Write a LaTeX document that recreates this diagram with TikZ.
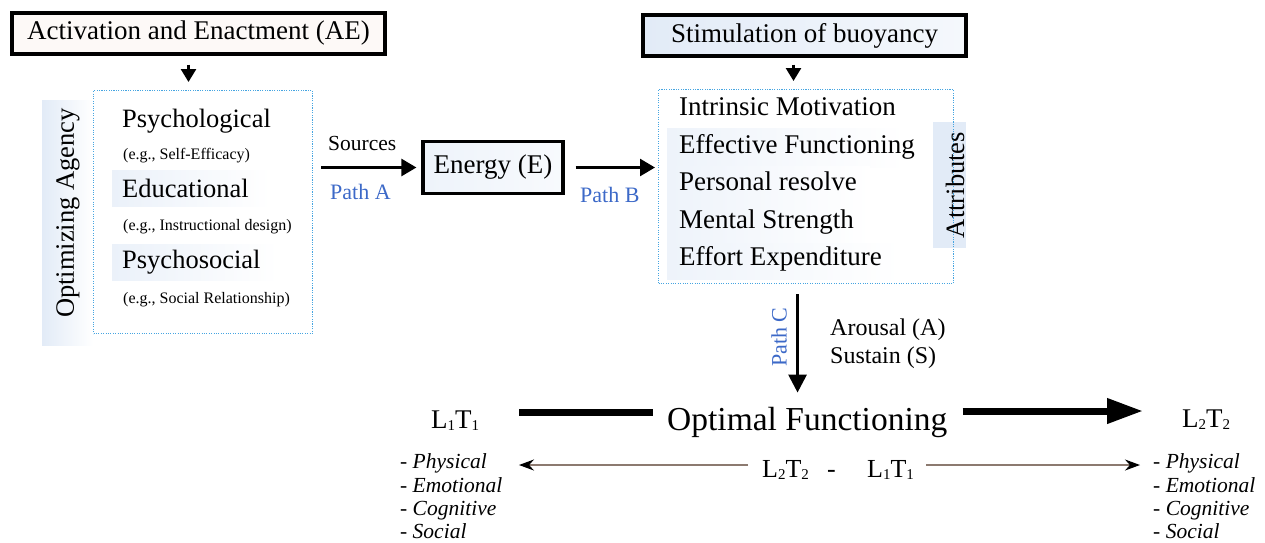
\documentclass[tikz,border=0pt]{standalone}
\usepackage{fontspec}
\setmainfont{Liberation Serif}
\usetikzlibrary{arrows.meta,calc}
\definecolor{pathblue}{RGB}{60,105,200}
\definecolor{dotblue}{RGB}{70,165,225}
\definecolor{stripblue}{RGB}{226,235,247}
\definecolor{aefill}{RGB}{253,249,247}
\definecolor{thinline}{RGB}{140,122,112}
\newcommand{\fs}[1]{\fontsize{#1}{#1}\selectfont}
\newcommand{\subdig}[1]{\raisebox{-0.08em}{\fontsize{15}{15}\selectfont #1}}
\newcommand{\LTsub}[2]{L\subdig{#1}T\subdig{#2}}
\begin{document}
\begin{tikzpicture}[x=1pt,y=-1pt,
  tbox/.style={draw=black, line width=3.2pt, inner sep=0pt},
  dotbox/.style={draw=dotblue, line width=1.1pt, dash pattern=on 1.1pt off 1.3pt, inner sep=0pt},
  txt/.style={inner sep=0pt, anchor=base west},
  bigf/.style={font=\fs{27}},
  mainf/.style={font=\fs{26.5}},
  smallf/.style={font=\fs{16}},
  labf/.style={font=\fs{21.5}},
  pathf/.style={font=\fs{22}, text=pathblue},
  itf/.style={font=\fs{21.5}\itshape},
  arrA/.style={line width=2.6pt, -{Triangle[length=15pt,width=17pt]}},
  arrD/.style={line width=2.6pt, -{Triangle[length=13pt,width=15pt]}},
  arrC/.style={line width=3pt, -{Triangle[length=18pt,width=18pt]}},
  fatline/.style={line width=7pt},
  fatarr/.style={line width=7pt, -{Triangle[length=36pt,width=24pt]}},
  thinarr/.style={draw=thinline, line width=1.5pt, -{Stealth[length=15pt,width=11pt,black]}}
]
\useasboundingbox (0,0) rectangle (1265,542);
\fill[white] (0,0) rectangle (1265,542);

% background strips
\shade[left color=stripblue, right color=white] (42,100) rectangle (93,345);
\shade[left color=stripblue!70, right color=white] (112,170) rectangle (270,206);
\shade[left color=stripblue!70, right color=white] (112,244) rectangle (278,280);
\shade[left color=stripblue!60, right color=white] (667,128) rectangle (905,167);
\shade[left color=stripblue!60, right color=white] (667,166) rectangle (870,204);
\shade[left color=stripblue!60, right color=white] (667,205) rectangle (870,242);
\shade[left color=stripblue!60, right color=white] (667,243) rectangle (900,279);
\fill[stripblue] (933,122) rectangle (966,248);

% top boxes
\node[tbox, fill=aefill, bigf, minimum width=373, minimum height=41] (AE) at (198.5,33.5) {Activation and Enactment (AE)};
\node[tbox, left color=stripblue, right color=stripblue!35, draw=black, bigf, minimum width=323, minimum height=41] (Stim) at (804.5,35.5) {Stimulation of buoyancy};
\node[tbox, left color=stripblue!60, right color=stripblue!25, draw=black, bigf, minimum width=140, minimum height=52] (E) at (493,167.5) {Energy (E)};

% dotted boxes
\node[dotbox, minimum width=219, minimum height=243, anchor=north west] (OA) at (93,90) {};
\node[dotbox, minimum width=295, minimum height=194, anchor=north west] (R) at (658,89) {};

% rotated labels
\node[mainf, rotate=90, inner sep=0pt] (OAL) at (68,213) {Optimizing Agency};
\node[mainf, rotate=90, inner sep=0pt] (ATT) at (955,185) {Attributes};
\node[pathf, rotate=90, inner sep=0pt] (PC) at (779,337) {Path C};

% left box items
\node[txt, mainf] (psy) at (122,127) {Psychological};
\node[txt, smallf] (psyex) at (123,159) {(e.g., Self-Efficacy)};
\node[txt, mainf] (edu) at (122,197) {Educational};
\node[txt, smallf] (eduex) at (123,230) {(e.g., Instructional design)};
\node[txt, mainf] (psys) at (122,268) {Psychosocial};
\node[txt, smallf] (psysex) at (123,303) {(e.g., Social Relationship)};

% right box items
\node[txt, bigf] (r1) at (679,115) {Intrinsic Motivation};
\node[txt, bigf] (r2) at (679,153) {Effective Functioning};
\node[txt, bigf] (r3) at (679,190) {Personal resolve};
\node[txt, bigf] (r4) at (679,228) {Mental Strength};
\node[txt, bigf] (r5) at (679,265) {Effort Expenditure};

% labels along arrows
\node[txt, labf] (src) at (328,150) {Sources};
\node[txt, pathf] (PA) at (330,199) {Path A};
\node[txt, pathf] (PB) at (580,202) {Path B};
\node[txt, font=\fs{24}] (ar) at (830,335) {Arousal (A)};
\node[txt, font=\fs{24}] (su) at (830,363) {Sustain (S)};

% bottom row
\node[txt, font=\fs{27}] (L1) at (431,428) {\LTsub{1}{1}};
\node[txt, font=\fs{33.5}] (OF) at (667,430) {Optimal Functioning};
\node[txt, font=\fs{27}] (L2) at (1182,427) {\LTsub{2}{2}};
\node[txt, font=\fs{26}] (M2) at (762,477) {\LTsub{2}{2}};
\node[txt, font=\fs{26}] (Dsh) at (827,477) {-};
\node[txt, font=\fs{26}] (M1) at (867,477) {\LTsub{1}{1}};

\node[txt, itf] (LP) at (400,468) {\upshape- \itshape Physical};
\node[txt, itf] (LE) at (400,492) {\upshape- \itshape Emotional};
\node[txt, itf] (LC) at (400,515) {\upshape- \itshape Cognitive};
\node[txt, itf] (LS) at (400,538) {\upshape- \itshape Social};
\node[txt, itf] (RP) at (1153,468) {\upshape- \itshape Physical};
\node[txt, itf] (RE) at (1153,492) {\upshape- \itshape Emotional};
\node[txt, itf] (RC) at (1153,515) {\upshape- \itshape Cognitive};
\node[txt, itf] (RS) at (1153,538) {\upshape- \itshape Social};

% connectors
\draw[arrD] ($(AE.south)+(-10,9)$) -- ($(AE.south |- OA.north)+(-10,-8)$);
\draw[arrD] ($(Stim.south)+(-11,7)$) -- ($(Stim.south |- R.north)+(-11,-8)$);
\draw[arrA] ($(E.west -| OA.east)+(8,0)$) -- ($(E.west)+(-5,0)$);
\draw[arrA] ($(E.east)+(11,0)$) -- ($(E.east -| R.west)+(-3,0)$);
\draw[arrC] ($(R.south)+(-8.5,10)$) -- ($(R.south |- OF.north)+(-8.5,-14)$);
\draw[fatline] ($(L1.base east)+(40,-16)$) -- ($(OF.base west)+(-14,-18)$);
\draw[fatarr] ($(OF.base east)+(15,-19)$) -- ($(L2.base west)+(-39,-16)$);
\draw[thinarr] ($(M2.base west)+(-14,-12)$) -- ($(LP.base east)+(32,-3)$);
\draw[thinarr] ($(M1.base east)+(12,-12)$) -- ($(RP.base west)+(-13,-3)$);
\end{tikzpicture}
\end{document}
